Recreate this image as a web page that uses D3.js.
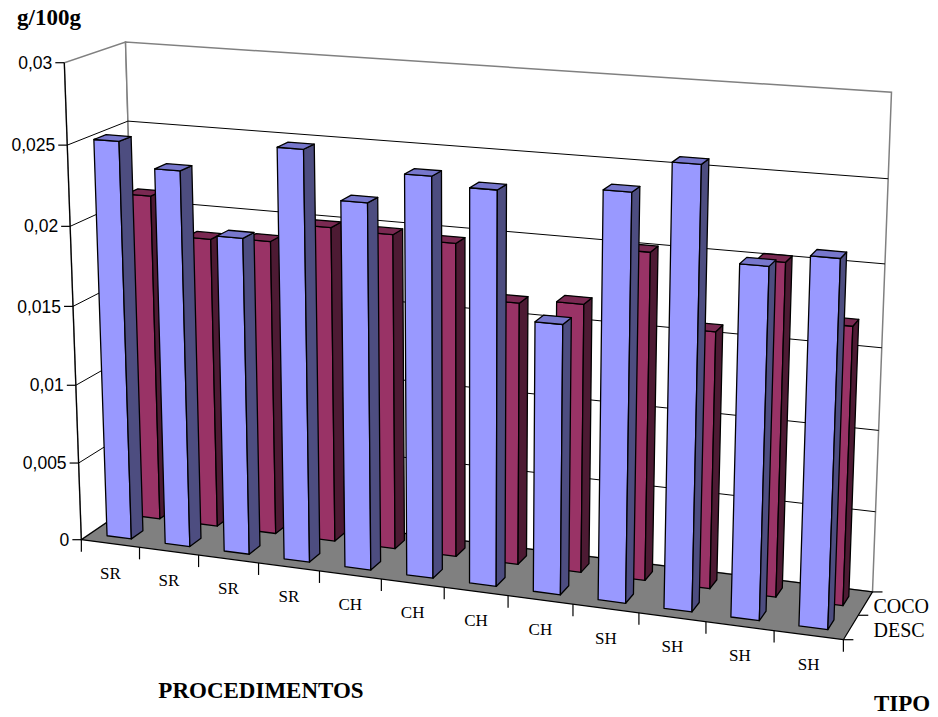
<!DOCTYPE html>
<html><head><meta charset="utf-8">
<script src="https://cdn.jsdelivr.net/npm/d3@7"></script>
<style>body{margin:0;background:#fff}svg{display:block}</style>
</head><body><svg id="c" width="938" height="717"></svg>
<script>
// ---------- data ----------
const categories = ["SR","SR","SR","SR","CH","CH","CH","CH","SH","SH","SH","SH"];
const seriesNames = ["DESC","COCO"];
const descValues = [0.0252,0.0237,0.0199,0.0256,0.0227,0.0246,0.0241,0.0165,0.0246,0.0265,0.0210,0.0218];
const cocoValues = [0.0210,0.0186,0.0188,0.0200,0.0199,0.0197,0.0164,0.0167,0.0202,0.0158,0.0203,0.0169];
const valueTicks = [0,0.005,0.01,0.015,0.02,0.025,0.03];
const valueTickLabels = ["0","0,005","0,01","0,015","0,02","0,025","0,03"];
const yTitle = "g/100g", xTitle = "PROCEDIMENTOS", zTitle = "TIPO";

// ---------- perspective projection (fitted to the reference box) ----------
const calib = [
  [0,0,0,82,540],[0,1,0,63,63],[0,1,1,126,41],[1,1,1,892,92],[1,0,1,873,593],[1,0,0,844,639],
  [0,5/6,1,129,120],[1,5/6,1,888,179],[1,4/6,1,885,263],[1,3/6,1,881,348],[1,2/6,1,877,432],
  [0,5/6,0,68,146],[0,4/6,0,70,228],[0,1/6,0,78,463],[1,0,0.5,858,616]
];
[139,199,258,319,381,444,508,573,639,707,775].forEach((u,i)=>{
  calib.push([(i+1)/12,0,0,u,540+(u-82)*99/762]);
});
function fitDLT(pts){
  const n=11, M=[...Array(n)].map(()=>new Array(n+1).fill(0));
  const rows=[];
  pts.forEach(([X,Y,Z,u,v])=>{
    rows.push([[X,Y,Z,1,0,0,0,0,-u*X,-u*Y,-u*Z],u]);
    rows.push([[0,0,0,0,X,Y,Z,1,-v*X,-v*Y,-v*Z],v]);
  });
  rows.forEach(([a,b])=>{
    for(let i=0;i<n;i++){ for(let j=0;j<n;j++) M[i][j]+=a[i]*a[j]; M[i][n]+=a[i]*b; }
  });
  for(let c=0;c<n;c++){
    let piv=c; for(let r=c+1;r<n;r++) if(Math.abs(M[r][c])>Math.abs(M[piv][c])) piv=r;
    [M[c],M[piv]]=[M[piv],M[c]];
    for(let r=0;r<n;r++){ if(r===c) continue; const f=M[r][c]/M[c][c];
      for(let k=c;k<=n;k++) M[r][k]-=f*M[c][k]; }
  }
  return M.map((row,i)=>row[n]/row[i]);
}
const P = fitDLT(calib);
function proj(X,Y,Z){
  const w=P[8]*X+P[9]*Y+P[10]*Z+1;
  return [(P[0]*X+P[1]*Y+P[2]*Z+P[3])/w,(P[4]*X+P[5]*Y+P[6]*Z+P[7])/w];
}

// ---------- scales ----------
const xScale = d3.scaleBand().domain(d3.range(categories.length)).range([0,1]).paddingInner(0.58).paddingOuter(0.29);
const xTickScale = d3.scaleLinear().domain([0,categories.length]).range([0,1]);
const zScale = d3.scaleBand().domain(seriesNames).range([0,1]).paddingInner(0.6).paddingOuter(0.3);
const yScale = d3.scaleLinear().domain([0,0.03]).range([0,1]);

const svg = d3.select("#c");
const line = d3.line();
const poly = pts => line(pts.map(p=>proj(...p)))+"Z";
const seg = (a,b) => line([proj(...a),proj(...b)]);

// ---------- walls ----------
const gWall = svg.append("g");
gWall.append("path").attr("d",poly([[0,0,0],[0,1,0],[0,1,1],[0,0,1]]))
  .attr("fill","#fff").attr("stroke","#808080").attr("stroke-width",1.5);
gWall.append("path").attr("d",poly([[0,0,1],[1,0,1],[1,1,1],[0,1,1]]))
  .attr("fill","#fff").attr("stroke","#808080").attr("stroke-width",1.5);
valueTicks.filter(t=>t>0 && t<0.03).forEach(t=>{
  const y=yScale(t);
  gWall.append("path").attr("d",line([proj(0,y,0),proj(0,y,1),proj(1,y,1)]))
    .attr("fill","none").attr("stroke","#000").attr("stroke-width",1);
});

// ---------- floor ----------
svg.append("path").attr("d",poly([[0,0,0],[1,0,0],[1,0,1],[0,0,1]]))
  .attr("fill","#808080").attr("stroke","#000").attr("stroke-width",1.2).attr("stroke-linejoin","round");

// value axis
svg.append("path").attr("d",seg([0,0,0],[0,1,0])).attr("stroke","#000").attr("stroke-width",1.2);
const gY = svg.append("g");
valueTicks.forEach((t,i)=>{
  const [px,py]=proj(0,yScale(t),0);
  gY.append("line").attr("x1",px-9).attr("x2",px).attr("y1",py).attr("y2",py).attr("stroke","#000").attr("stroke-width",1.2);
  gY.append("text").attr("x",px-12).attr("y",py).attr("dy","0.35em").attr("text-anchor","end")
    .attr("font-family","Liberation Sans, Arial, sans-serif").attr("font-size",17.5).text(valueTickLabels[i]);
});

// category axis ticks and labels
const gX = svg.append("g");
d3.range(categories.length+1).forEach(k=>{
  const [px,py]=proj(xTickScale(k),0,0);
  gX.append("line").attr("x1",px).attr("x2",px).attr("y1",py).attr("y2",py+12).attr("stroke","#000").attr("stroke-width",1.2);
});
categories.forEach((c,i)=>{
  const [px,py]=proj(xTickScale(i+0.5),0,0);
  gX.append("text").attr("x",px).attr("y",py+35).attr("text-anchor","middle")
    .attr("font-family","Liberation Serif, Times New Roman, serif").attr("font-size",17).text(c);
});

// depth axis ticks and labels
const gZ = svg.append("g");
[0,0.5,1].forEach(z=>{
  const [px,py]=proj(1,0,z);
  gZ.append("line").attr("x1",px).attr("x2",px+10).attr("y1",py).attr("y2",py).attr("stroke","#000").attr("stroke-width",1.2);
});
const zLabelX = proj(1,0,1)[0]+1;
seriesNames.forEach(s=>{
  const [,py]=proj(1,0,zScale(s)+zScale.bandwidth()/2);
  gZ.append("text").attr("x",zLabelX).attr("y",py+9.5)
    .attr("font-family","Liberation Serif, Times New Roman, serif").attr("font-size",20).text(s);
});

// ---------- bars ----------
const colors = {
  DESC:{front:"#9999FF",side:"#4D4D80",top:"#7777CC"},
  COCO:{front:"#993366",side:"#4D1A33",top:"#7A2952"}
};
const seriesData = {DESC:descValues, COCO:cocoValues};
const gB = svg.append("g").attr("stroke","#000").attr("stroke-width",1.3).attr("stroke-linejoin","round");
["COCO","DESC"].forEach(s=>{
  const z0=zScale(s), z1=z0+zScale.bandwidth(), col=colors[s];
  seriesData[s].forEach((v,i)=>{
    const x0=xScale(i), x1=x0+xScale.bandwidth(), h=yScale(v);
    gB.append("path").attr("d",poly([[x0,0,z0],[x1,0,z0],[x1,h,z0],[x0,h,z0]])).attr("fill",col.front);
    gB.append("path").attr("d",poly([[x1,0,z0],[x1,0,z1],[x1,h,z1],[x1,h,z0]])).attr("fill",col.side);
    gB.append("path").attr("d",poly([[x0,h,z0],[x1,h,z0],[x1,h,z1],[x0,h,z1]])).attr("fill",col.top);
  });
});

// ---------- titles ----------
const tf = "Liberation Serif, Times New Roman, serif";
svg.append("text").attr("x",17).attr("y",25).attr("font-family",tf).attr("font-weight","bold").attr("font-size",23).text(yTitle);
svg.append("text").attr("x",261).attr("y",698).attr("text-anchor","middle").attr("font-family",tf).attr("font-weight","bold").attr("font-size",23).text(xTitle);
svg.append("text").attr("x",874).attr("y",711).attr("font-family",tf).attr("font-weight","bold").attr("font-size",23).text(zTitle);
</script>
</body></html>
